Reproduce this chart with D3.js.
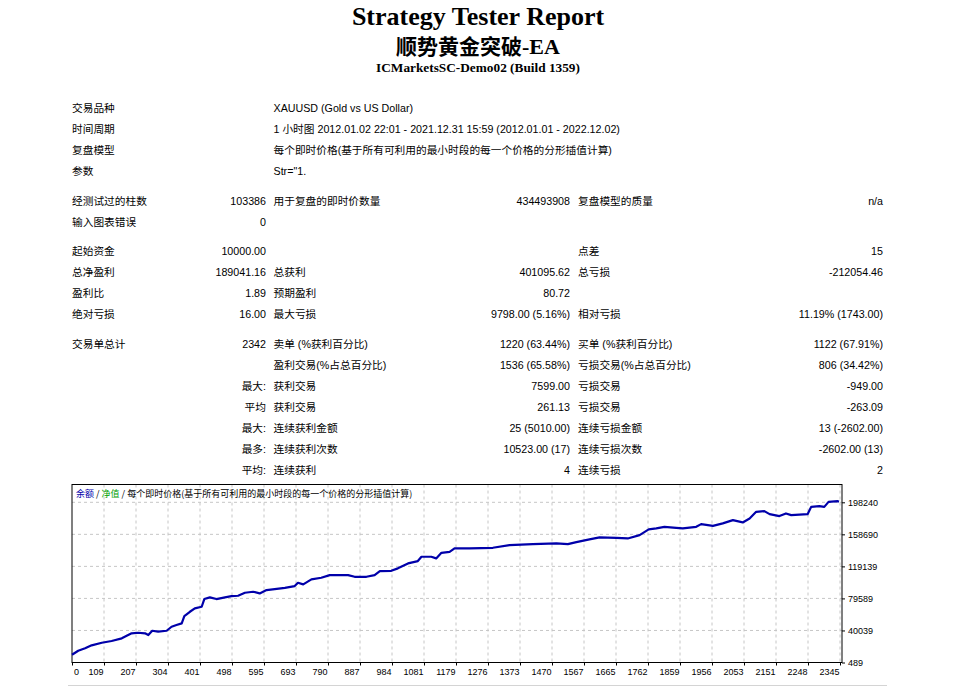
<!DOCTYPE html>
<html>
<head>
<meta charset="utf-8">
<script src="https://cdn.jsdelivr.net/npm/d3@7"></script>
<style>
  body { margin: 0; background: #fff; }
  svg { display: block; }
  .tbl text { font-family: "Liberation Sans", "Noto Sans CJK SC", sans-serif; font-size: 10.7px; fill: #000; }
  .axis text { font-family: "Liberation Sans", sans-serif; font-size: 9px; fill: #000; }
</style>
</head>
<body>
<div id="report"></div>
<script>
// report header
var titleText = "Strategy Tester Report";
var eaName = "顺势黄金突破";
var eaSuffix = "-EA";
var serverText = "ICMarketsSC-Demo02 (Build 1359)";

// settings rows: label + text spanning the rest of the row
var settingRows = [
  ["交易品种", "XAUUSD (Gold vs US Dollar)"],
  ["时间周期", "1 小时图 2012.01.02 22:01 - 2021.12.31 15:59 (2012.01.01 - 2022.12.02)"],
  ["复盘模型", "每个即时价格(基于所有可利用的最小时段的每一个价格的分形插值计算)"],
  ["参数", "Str=\"1."]
];

// stats rows: label, value, label, value, label, value
var testRows = [
  ["经测试过的柱数", "103386", "用于复盘的即时价数量", "434493908", "复盘模型的质量", "n/a"],
  ["输入图表错误", "0", "", "", "", ""]
];
var profitRows = [
  ["起始资金", "10000.00", "", "", "点差", "15"],
  ["总净盈利", "189041.16", "总获利", "401095.62", "总亏损", "-212054.46"],
  ["盈利比", "1.89", "预期盈利", "80.72", "", ""],
  ["绝对亏损", "16.00", "最大亏损", "9798.00 (5.16%)", "相对亏损", "11.19% (1743.00)"]
];
var tradeRows = [
  ["交易单总计", "2342", "卖单 (%获利百分比)", "1220 (63.44%)", "买单 (%获利百分比)", "1122 (67.91%)"],
  ["", "", "盈利交易(%占总百分比)", "1536 (65.58%)", "亏损交易(%占总百分比)", "806 (34.42%)"],
  ["", "最大:", "获利交易", "7599.00", "亏损交易", "-949.00"],
  ["", "平均", "获利交易", "261.13", "亏损交易", "-263.09"],
  ["", "最大:", "连续获利金额", "25 (5010.00)", "连续亏损金额", "13 (-2602.00)"],
  ["", "最多:", "连续获利次数", "10523.00 (17)", "连续亏损次数", "-2602.00 (13)"],
  ["", "平均:", "连续获利", "4", "连续亏损", "2"]
];

// balance curve (trade number, balance)
var tradeNo = [0, 19, 40, 60, 91, 121, 152, 182, 202, 223, 233, 245, 263, 289, 304, 319, 335, 343, 360, 375,
  396, 404, 421, 441, 467, 487, 507, 528, 553, 573, 594, 619, 650, 680, 690, 706, 731, 761, 787, 843,
  863, 899, 924, 940, 975, 995, 1026, 1056, 1067, 1097, 1112, 1128, 1153, 1168, 1214, 1285, 1336, 1407, 1479, 1514,
  1540, 1580, 1611, 1662, 1697, 1733, 1761, 1784, 1809, 1845, 1865, 1906, 1921, 1957, 1987, 2018, 2048, 2069, 2089, 2114,
  2130, 2160, 2180, 2196, 2246, 2257, 2282, 2297, 2310, 2338, 2342];
var balance = [10000, 15000, 18000, 21700, 24900, 27000, 30300, 36500, 37200, 36500, 34400, 39700, 38500, 39700, 44600, 46700, 48800, 57800, 63100, 67300,
  69300, 78800, 80900, 78800, 80900, 82500, 82900, 86600, 87800, 85800, 89900, 91100, 92700, 94800, 98900, 96900, 103100, 105100, 108400, 108400,
  106300, 106300, 108400, 113300, 113700, 116700, 122800, 125700, 131000, 131000, 129000, 135900, 137100, 141300, 141300, 142100, 145400, 146600, 147500, 146600,
  149100, 152400, 154900, 154400, 153600, 157700, 164800, 166000, 168000, 166700, 166000, 168000, 171300, 169200, 172200, 176200, 173400, 178300, 186500, 187300,
  183600, 181200, 184500, 182400, 183600, 192600, 193500, 192600, 198800, 199600, 199041];

var xTickLabels = [0, 109, 207, 304, 401, 498, 595, 693, 790, 887, 984, 1081, 1179, 1276, 1373, 1470,
  1567, 1665, 1762, 1859, 1956, 2053, 2151, 2248, 2345];
var yTickValues = [489, 40039, 79589, 119139, 158690, 198240];

var legendParts = [
  { text: "余额", color: "#0000aa" },
  { text: " / ", color: "#000" },
  { text: "净值", color: "#00a000" },
  { text: " / 每个即时价格(基于所有可利用的最小时段的每一个价格的分形插值计算)", color: "#000" }
];

var width = 958, height = 686;
var svg = d3.select("#report").append("svg").attr("width", width).attr("height", height);

// ---- header
svg.append("text").attr("x", 478).attr("y", 25).attr("text-anchor", "middle")
  .style("font-family", "Liberation Serif").style("font-weight", "bold").style("font-size", "26px")
  .text(titleText);
var sub = svg.append("text").attr("x", 478).attr("y", 54).attr("text-anchor", "middle")
  .style("font-weight", "bold").style("font-size", "21px");
sub.append("tspan").style("font-family", "Noto Sans CJK SC").text(eaName);
sub.append("tspan").style("font-family", "Liberation Serif").style("font-size", "22px").text(eaSuffix);
svg.append("text").attr("x", 478).attr("y", 71.5).attr("text-anchor", "middle")
  .style("font-family", "Liberation Serif").style("font-weight", "bold").style("font-size", "13.3px")
  .text(serverText);

// ---- table
var tbl = svg.append("g").attr("class", "tbl");
var colX = [72, 266, 273.5, 570, 578, 883];
var rowStep = 21.05, groupGap = 8.3, firstRow = 108.3;
function rowY(i, g) { return firstRow + i * rowStep + g * groupGap; }

settingRows.forEach(function (r, i) {
  var y = rowY(i, 0);
  tbl.append("text").attr("x", colX[0]).attr("y", y).attr("dy", "0.36em").text(r[0]);
  tbl.append("text").attr("x", colX[2]).attr("y", y).attr("dy", "0.36em").text(r[1]);
});

var rowIndex = settingRows.length;
[testRows, profitRows, tradeRows].forEach(function (group, g) {
  group.forEach(function (r) {
    var y = rowY(rowIndex, g + 1);
    r.forEach(function (cell, c) {
      if (!cell) return;
      tbl.append("text")
        .attr("x", colX[c]).attr("y", y).attr("dy", "0.36em")
        .attr("text-anchor", c % 2 === 1 ? "end" : "start")
        .text(cell);
    });
    rowIndex++;
  });
});

// ---- balance chart
var L = 72, R = 842, T = 484.5, B = 662.5;
var x = d3.scaleLinear().domain([0, 2345]).range([L, 840]);
var xTicks = d3.scalePoint().domain(xTickLabels).range([L, 840]);
var y = d3.scaleLinear().domain([489, 198240]).range([B, 502.3]);

var chart = svg.append("g");

// grid
chart.append("g").selectAll("line").data(xTickLabels.slice(1)).enter().append("line")
  .attr("x1", function (d) { return xTicks(d); }).attr("x2", function (d) { return xTicks(d); })
  .attr("y1", T).attr("y2", B)
  .attr("stroke", "#c6c6c6").attr("stroke-dasharray", "3,3");
chart.append("g").selectAll("line").data(yTickValues.slice(1)).enter().append("line")
  .attr("x1", L).attr("x2", R)
  .attr("y1", function (d) { return y(d); }).attr("y2", function (d) { return y(d); })
  .attr("stroke", "#c6c6c6").attr("stroke-dasharray", "3,3");

// frame
chart.append("rect").attr("x", L).attr("y", T).attr("width", R - L).attr("height", B - T)
  .attr("fill", "none").attr("stroke", "#000").attr("stroke-width", 1);

// x axis
var xAxis = chart.append("g").attr("class", "axis").attr("transform", "translate(0," + B + ")")
  .call(d3.axisBottom(xTicks).tickSize(3).tickSizeOuter(0));
xAxis.select(".domain").remove();
xAxis.selectAll("text").attr("text-anchor", "end").attr("dx", "-1").attr("y", 6);
xAxis.selectAll(".tick").filter(function (d) { return d === 0; })
  .select("text").attr("text-anchor", "start").attr("dx", "1.5");

// y axis
var yAxis = chart.append("g").attr("class", "axis").attr("transform", "translate(" + R + ",0)")
  .call(d3.axisRight(y).tickValues(yTickValues).tickSize(3).tickSizeOuter(0).tickFormat(d3.format("d")));
yAxis.select(".domain").remove();
yAxis.selectAll("text").attr("x", 6);

// legend
var leg = chart.append("text").attr("x", 76).attr("y", 496.5)
  .style("font-family", "Noto Sans CJK SC").style("font-size", "9px");
legendParts.forEach(function (p) {
  leg.append("tspan").attr("fill", p.color).style("white-space", "pre").text(p.text);
});

// balance line
var line = d3.line()
  .x(function (d, i) { return x(tradeNo[i]); })
  .y(function (d) { return y(d); });
chart.append("path").datum(balance)
  .attr("d", line)
  .attr("fill", "none").attr("stroke", "#0000aa").attr("stroke-width", 2.2)
  .attr("stroke-linejoin", "round");

// top edge of next table
svg.append("line").attr("x1", 68).attr("x2", 887).attr("y1", 685.5).attr("y2", 685.5)
  .attr("stroke", "#d4d4d4");
</script>
</body>
</html>
